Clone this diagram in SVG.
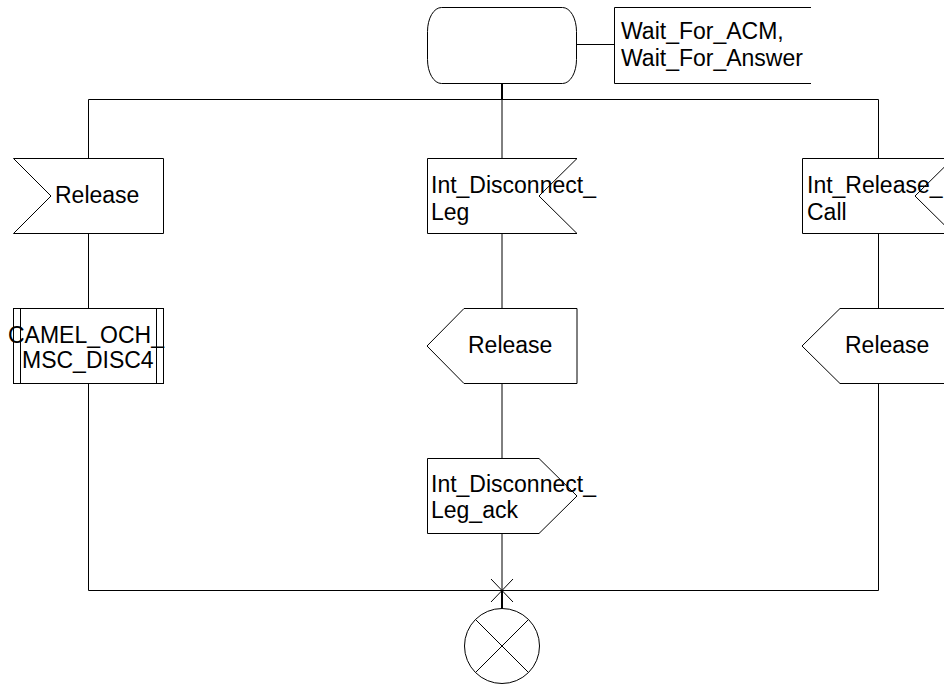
<svg xmlns="http://www.w3.org/2000/svg" width="944" height="684" viewBox="0 0 944 684">
<style>
.s{fill:#fff;stroke:#000;stroke-width:1}
.l{fill:none;stroke:#000;stroke-width:1}
.b{fill:none;stroke:#000;stroke-width:2}
text{font-family:"Liberation Sans",Arial,sans-serif;font-size:23px;fill:#000}
</style>
<rect width="944" height="684" fill="#fff"/>
<g id="connectors">
<line class="b" x1="502" y1="83" x2="502" y2="99.5"/>
<line class="l" x1="576" y1="44.5" x2="614" y2="44.5"/>
<line class="l" x1="88.5" y1="99.5" x2="878.5" y2="99.5"/>
<line class="l" x1="88.5" y1="99.5" x2="88.5" y2="158"/>
<line class="l" x1="88.5" y1="233" x2="88.5" y2="308"/>
<line class="l" x1="88.5" y1="383" x2="88.5" y2="590.5"/>
<line class="l" x1="502" y1="99.5" x2="502" y2="158"/>
<line class="l" x1="502" y1="233" x2="502" y2="308"/>
<line class="l" x1="502" y1="383" x2="502" y2="458"/>
<line class="l" x1="502" y1="533" x2="502" y2="590.5"/>
<line class="l" x1="878.5" y1="99.5" x2="878.5" y2="158"/>
<line class="l" x1="878.5" y1="233" x2="878.5" y2="308"/>
<line class="l" x1="878.5" y1="383" x2="878.5" y2="590.5"/>
<line class="l" x1="88.5" y1="590.5" x2="878.5" y2="590.5"/>
<line class="l" x1="491" y1="579" x2="513" y2="602"/>
<line class="l" x1="513" y1="579" x2="491" y2="602"/>
<line class="b" x1="502" y1="590.5" x2="502" y2="609"/>
</g>
<g id="state">
<rect class="s" x="427.5" y="7.5" width="149" height="76" rx="14" ry="24"/>
<path class="l" d="M811,7.5 H614.5 V83.5 H811"/>
<text x="621" y="39">Wait_For_ACM,</text>
<text x="621" y="66">Wait_For_Answer</text>
</g>
<g id="in_release">
<polygon class="s" points="13.5,158.5 163.5,158.5 163.5,233.5 13.5,233.5 51,196"/>
<text x="55" y="203">Release</text>
</g>
<g id="in_int_disconnect_leg">
<polygon class="s" points="427.5,158.5 577,158.5 539,196 577,233.5 427.5,233.5"/>
<text x="431" y="193">Int_Disconnect_</text>
<text x="431" y="220">Leg</text>
</g>
<g id="in_int_release_call">
<polygon class="s" points="802.5,158.5 953,158.5 915,196 953,233.5 802.5,233.5"/>
<text x="807" y="193">Int_Release_</text>
<text x="807" y="220">Call</text>
</g>
<g id="proc_camel">
<rect class="s" x="13.5" y="308.5" width="150" height="75"/>
<line class="l" x1="20.5" y1="308.5" x2="20.5" y2="383.5"/>
<line class="l" x1="156.5" y1="308.5" x2="156.5" y2="383.5"/>
<text x="8" y="343">CAMEL_OCH_</text>
<text x="22" y="368">MSC_DISC4</text>
</g>
<g id="out_release_mid">
<polygon class="s" points="427,346 464,308.5 577,308.5 577,383.5 464,383.5"/>
<text x="468" y="353">Release</text>
</g>
<g id="out_release_right">
<polygon class="s" points="802,346 840,308.5 953,308.5 953,383.5 840,383.5"/>
<text x="845" y="353">Release</text>
</g>
<g id="out_int_disconnect_leg_ack">
<polygon class="s" points="427.5,458.5 539,458.5 577,496 539,533.5 427.5,533.5"/>
<text x="431" y="492">Int_Disconnect_</text>
<text x="431" y="518">Leg_ack</text>
</g>
<g id="stop">
<circle class="s" cx="502" cy="646" r="37.5"/>
<line class="l" x1="475.5" y1="619.5" x2="528.5" y2="672.5"/>
<line class="l" x1="528.5" y1="619.5" x2="475.5" y2="672.5"/>
</g>
</svg>
